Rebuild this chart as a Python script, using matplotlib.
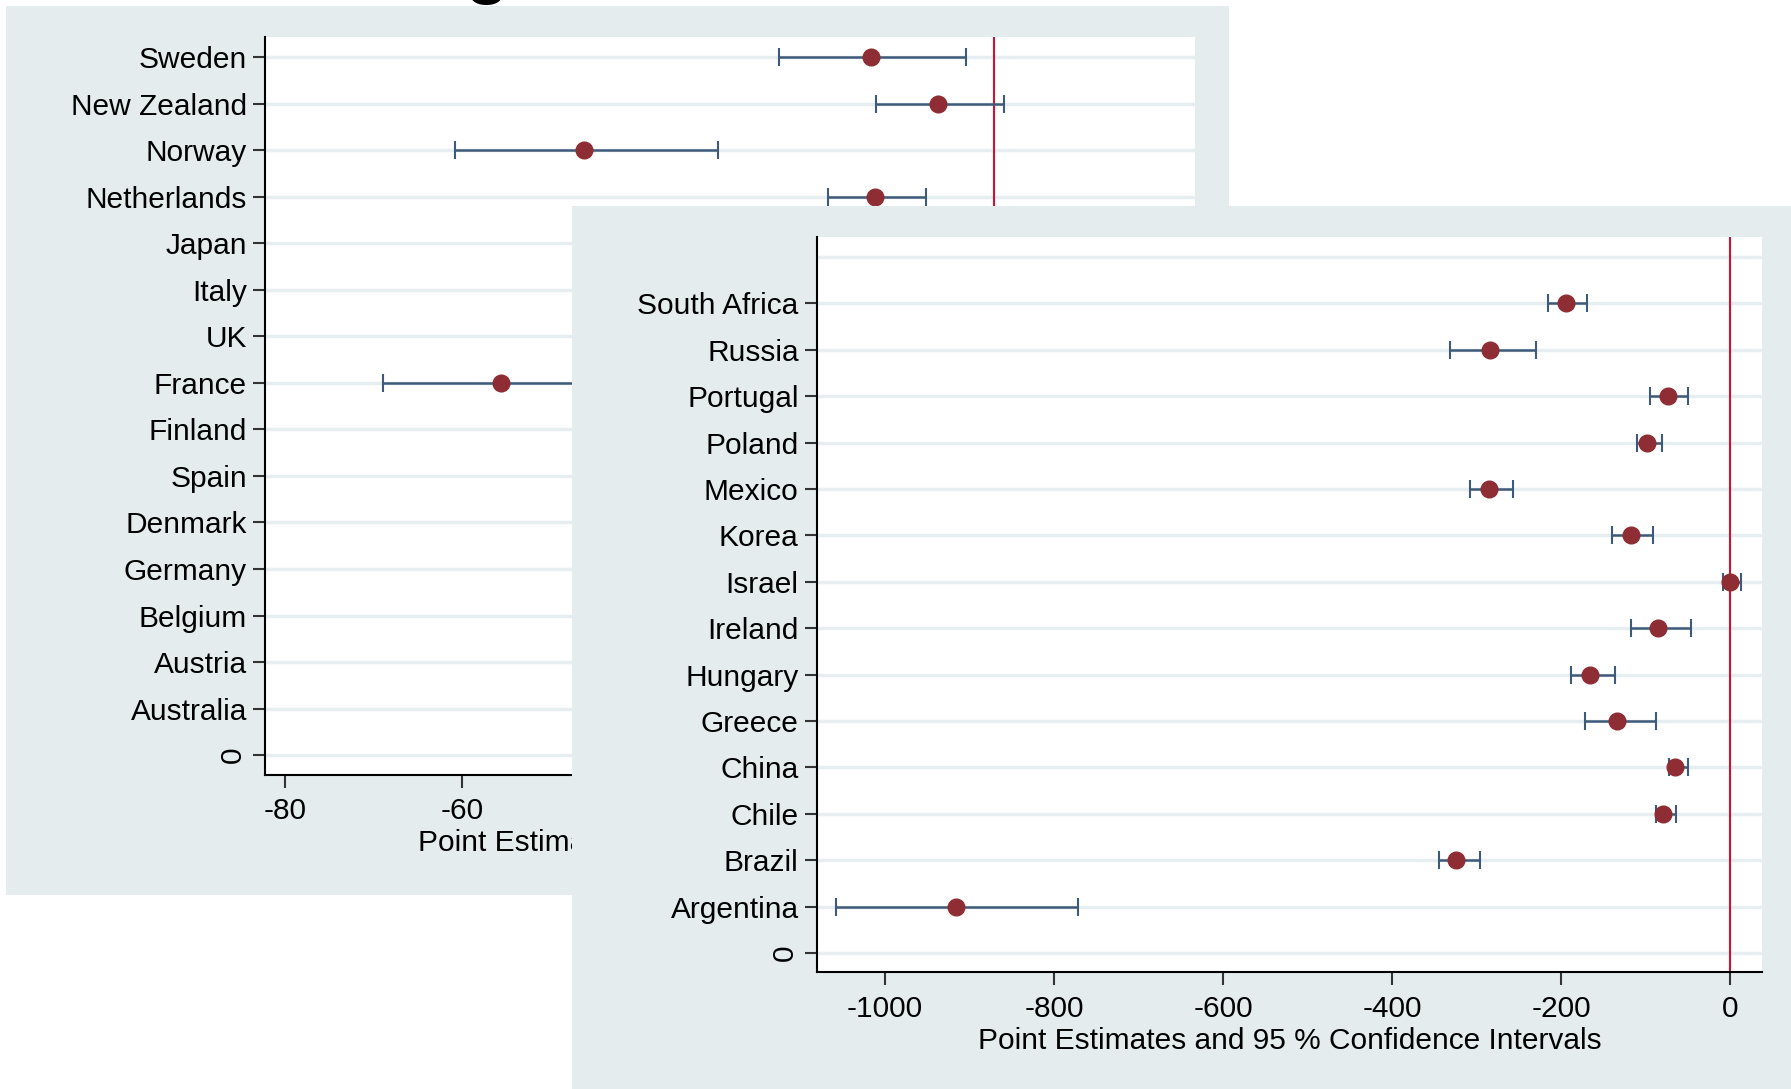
import numpy as np
import matplotlib
matplotlib.use("Agg")
import matplotlib.pyplot as plt

plt.rcParams['font.family'] = ['Liberation Sans', 'DejaVu Sans']

# back panel (OECD group), top to bottom; hidden rows are NaN
back_countries = ["Sweden", "New Zealand", "Norway", "Netherlands", "Japan", "Italy", "UK",
                  "France", "Finland", "Spain", "Denmark", "Germany", "Belgium", "Austria", "Australia"]
back_est = [-13.9, -6.3, -46.3, -13.4, np.nan, np.nan, np.nan,
            -55.7, np.nan, np.nan, np.nan, np.nan, np.nan, np.nan, np.nan]
back_lo = [-24.3, -13.3, -60.8, -18.7, np.nan, np.nan, np.nan,
           -69.0, np.nan, np.nan, np.nan, np.nan, np.nan, np.nan, np.nan]
back_hi = [-3.1, 1.2, -31.1, -7.6, np.nan, np.nan, np.nan,
           -42.4, np.nan, np.nan, np.nan, np.nan, np.nan, np.nan, np.nan]
back_xticks = [-80, -60, -40, -20, 0, 20]

# front panel (non-OECD group), top to bottom
front_countries = ["South Africa", "Russia", "Portugal", "Poland", "Mexico", "Korea", "Israel",
                   "Ireland", "Hungary", "Greece", "China", "Chile", "Brazil", "Argentina"]
front_est = [-195, -284, -74, -99, -286, -118, 0, -86, -166, -134, -65, -80, -324, -916]
front_lo = [-216, -332, -95, -111, -308, -140, -9, -118, -189, -172, -73, -88, -345, -1058]
front_hi = [-170, -230, -50, -81, -257, -91, 13, -47, -136, -88, -50, -64, -296, -772]
front_xticks = [-1000, -800, -600, -400, -200, 0]

xlabel = "Point Estimates and 95 % Confidence Intervals"

BG = "#e4ecee"
GRID = "#e6eef1"
DOT = "#8e2d33"
CI = "#3d5a78"
RED = "#d2102f"
FS = 21.5


def draw_panel(ax, countries, est, lo, hi, xticks, xlim, first_pos):
    n = len(countries)
    pos = np.arange(first_pos, first_pos - n, -1)
    for p in range(0, 16):
        ax.axhline(p, color=GRID, lw=2.5, zorder=0)
    est = np.array(est, dtype=float)
    lo = np.array(lo, dtype=float)
    hi = np.array(hi, dtype=float)
    ax.errorbar(est, pos, xerr=[est - lo, hi - est], fmt='none', ecolor=CI,
                elinewidth=1.8, capsize=6.5, capthick=1.5, zorder=2)
    ax.plot(est, pos, 'o', color=DOT, markersize=12, zorder=3)
    ax.axvline(0, color=RED, lw=1.5, zorder=1)
    ax.set_xlim(*xlim)
    ax.set_ylim(-0.42, 15.44)
    ax.set_xticks(xticks)
    ax.set_xticklabels([str(t) for t in xticks])
    ax.set_yticks(list(pos) + [0])
    ax.set_yticklabels(countries + ["0"])
    for lbl in ax.get_yticklabels():
        if lbl.get_text() == "0":
            lbl.set_rotation(90)
            lbl.set_va('center')
    ax.tick_params(axis='both', labelsize=FS, length=9, width=1.5, color='#333333', pad=4)
    ax.tick_params(axis='x', pad=7)
    ax.spines['top'].set_visible(False)
    ax.spines['right'].set_visible(False)
    ax.spines['left'].set_linewidth(1.5)
    ax.spines['bottom'].set_linewidth(1.5)
    ax.set_xlabel(xlabel, fontsize=FS, labelpad=3)
    ax.set_facecolor('white')


fig = plt.figure(figsize=(17.91, 10.89), dpi=100)

# descender of a title letter cut off at the top edge
fig.text(0.272, 1.011, "g", fontsize=60, ha='center', va='baseline', color='black')

bg1 = fig.add_axes([5 / 1568, 1 - 783 / 953, 1071 / 1568, 778 / 953], zorder=1)
bg1.set_facecolor(BG)
bg1.set_xticks([])
bg1.set_yticks([])
for s in bg1.spines.values():
    s.set_visible(False)

ax1 = fig.add_axes([232 / 1568, 1 - 678 / 953, 814 / 1568, 646 / 953], zorder=2)
draw_panel(ax1, back_countries, back_est, back_lo, back_hi, back_xticks, (-82.3, 22.7), 15)

bg2 = fig.add_axes([501 / 1568, 0, 1067 / 1568, 1 - 180 / 953], zorder=3)
bg2.set_facecolor(BG)
bg2.set_xticks([])
bg2.set_yticks([])
for s in bg2.spines.values():
    s.set_visible(False)

ax2 = fig.add_axes([715 / 1568, 1 - 851 / 953, 828 / 1568, 644 / 953], zorder=4)
draw_panel(ax2, front_countries, front_est, front_lo, front_hi, front_xticks, (-1081, 38), 14)

fig.savefig("out.png", dpi=100)
